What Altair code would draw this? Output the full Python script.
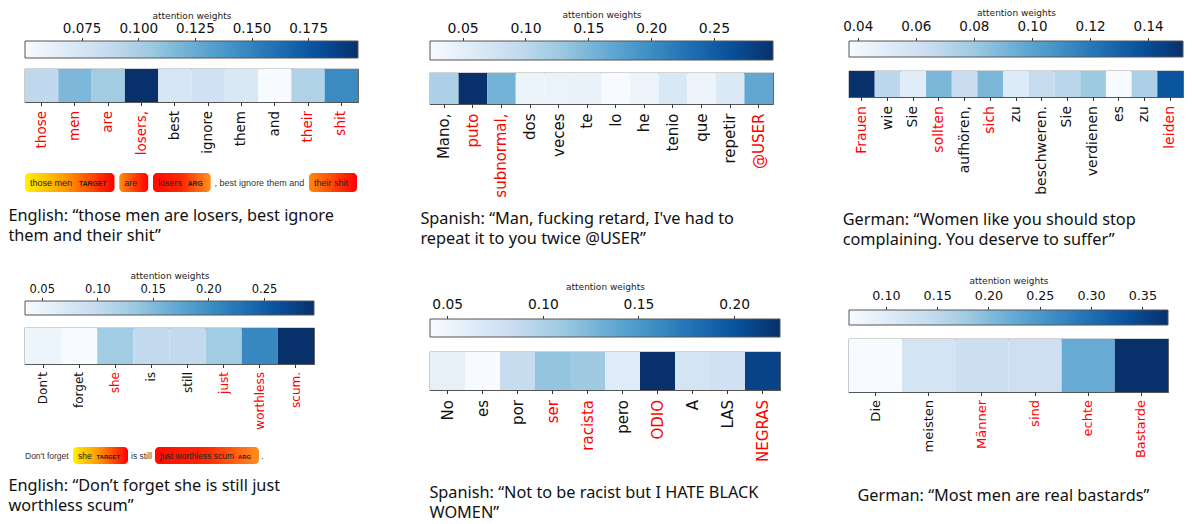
import json
import altair as alt
import pandas as pd

# ---------------- data ----------------
p1_tokens = ["those", "men", "are", "losers,", "best", "ignore", "them", "and", "their", "shit"]
p1_values = [0.090, 0.117, 0.103, 0.197, 0.074, 0.080, 0.072, 0.050, 0.097, 0.146]
p1_red = [0, 1, 2, 3, 8, 9]
p1_ticks = [0.075, 0.100, 0.125, 0.150, 0.175]
p1_caption = ["English: \u201cthose men are losers, best ignore", "them and their shit\u201d"]

p2_tokens = ["Mano,", "puto", "subnormal,", "dos", "veces", "te", "lo", "he", "tenio", "que", "repetir", "@USER"]
p2_values = [0.114, 0.297, 0.155, 0.040, 0.042, 0.043, 0.024, 0.038, 0.065, 0.038, 0.062, 0.169]
p2_red = [1, 2, 11]
p2_ticks = [0.05, 0.10, 0.15, 0.20, 0.25]
p2_caption = ["Spanish: \u201cMan, fucking retard, I've had to", "repeat it to you twice @USER\u201d"]

p3_tokens = ["Frauen", "wie", "Sie", "sollten", "aufh\u00f6ren,", "sich", "zu", "beschweren.", "Sie", "verdienen", "es", "zu", "leiden"]
p3_values = [0.152, 0.069, 0.050, 0.090, 0.063, 0.090, 0.052, 0.065, 0.070, 0.080, 0.037, 0.075, 0.136]
p3_red = [0, 3, 5, 12]
p3_ticks = [0.04, 0.06, 0.08, 0.10, 0.12, 0.14]
p3_caption = ["German: \u201cWomen like you should stop", "complaining. You deserve to suffer\u201d"]

p4_tokens = ["Don't", "forget", "she", "is", "still", "just", "worthless", "scum."]
p4_values = [0.048, 0.035, 0.129, 0.103, 0.103, 0.129, 0.207, 0.295]
p4_red = [2, 5, 6, 7]
p4_ticks = [0.05, 0.10, 0.15, 0.20, 0.25]
p4_caption = ["English: \u201cDon\u2019t forget she is still just", "worthless scum\u201d"]

p5_tokens = ["No", "es", "por", "ser", "racista", "pero", "ODIO", "A", "LAS", "NEGRAS"]
p5_values = [0.057, 0.041, 0.085, 0.114, 0.109, 0.063, 0.224, 0.074, 0.078, 0.211]
p5_red = [3, 4, 6, 9]
p5_ticks = [0.05, 0.10, 0.15, 0.20]
p5_caption = ["Spanish: \u201cNot to be racist but I HATE BLACK", "WOMEN\u201d"]

p6_tokens = ["Die", "meisten", "M\u00e4nner", "sind", "echte", "Bastarde"]
p6_values = [0.064, 0.120, 0.132, 0.131, 0.223, 0.375]
p6_red = [2, 3, 4, 5]
p6_ticks = [0.10, 0.15, 0.20, 0.25, 0.30, 0.35]
p6_caption = ["German: \u201cMost men are real bastards\u201d"]

# span annotations (positions along the annotation strip)
a1_start = [0, 98, 133, 197, 295]
a1_end = [93, 128, 193, 197, 345]
a1_label = ["those men", "are", "losers", ", best ignore them and", "their shit"]
a1_tag = ["TARGET", "", "ARG", "", ""]
a1_kind = ["yr", "or", "ro", "plain", "or"]

a4_start = [0, 48, 106, 130, 236]
a4_end = [0, 103, 106, 234, 236]
a4_label = ["Don't forget", "she", "is still", "just worthless scum", "."]
a4_tag = ["", "TARGET", "", "ARG", ""]
a4_kind = ["plain", "yr", "plain", "ro", "plain"]

# ---------------- style ----------------
BLUES = ["#f7fbff", "#deebf7", "#c6dbef", "#9ecae1", "#6baed6",
         "#4292c6", "#2171b5", "#08519c", "#08306b"]
TICK_FONT = "DejaVu Sans"
CAP_FONT = "Noto Sans"
FRAME = "#555555"

GRADS = {
    "yr": [("#fff200", 0.0), ("#ff9a00", 0.45), ("#ff0000", 1.0)],
    "or": [("#ff8c10", 0.0), ("#ff0000", 1.0)],
    "ro": [("#ff0a00", 0.0), ("#ff2a00", 0.5), ("#ff9020", 1.0)],
}


def lin_grad(stops):
    return alt.LinearGradient(
        gradient="linear",
        stops=[alt.GradientStop(color=c, offset=o) for c, o in stops],
        x1=0, x2=1, y1=0, y2=0,
    )


def colorbar(values, ticks, fmt, width, height, fs, lp, tp):
    lo, hi = min(values), max(values)
    df = pd.DataFrame({"lo": [lo], "hi": [hi]})
    grad = lin_grad([(c, i / (len(BLUES) - 1)) for i, c in enumerate(BLUES)])
    return alt.Chart(df).mark_rect(fill=grad, stroke=FRAME, strokeWidth=1).encode(
        x=alt.X("lo:Q",
                scale=alt.Scale(domain=[lo, hi], nice=False, zero=False),
                axis=alt.Axis(orient="top", values=ticks, format=fmt,
                              title="attention weights", titleFont=TICK_FONT,
                              titleFontSize=9, titleFontWeight="normal",
                              titleColor="#222222", titlePadding=tp,
                              labelFont=TICK_FONT, labelFontSize=fs,
                              labelColor="#111111", labelPadding=lp,
                              labelOverlap=False, labelFlush=False,
                              tickSize=3.5, tickColor="#333333",
                              domain=False, grid=False)),
        x2="hi:Q",
    ).properties(width=width, height=height,
                 view=alt.ViewBackground(strokeOpacity=0, strokeWidth=0))


def heatmap(tokens, values, red, width, height, fs, lp):
    df = pd.DataFrame({"idx": list(range(len(tokens))), "v": values})
    lo, hi = min(values), max(values)
    dom = [lo + (hi - lo) * i / (len(BLUES) - 1) for i in range(len(BLUES))]
    label_expr = json.dumps(tokens, ensure_ascii=False) + "[datum.value]"
    label_color = {
        "condition": {"test": "indexof(%s, datum.value) >= 0" % json.dumps(red),
                      "value": "#ff0000"},
        "value": "#111111",
    }
    return alt.Chart(df).mark_rect().encode(
        x=alt.X("idx:O",
                scale=alt.Scale(paddingInner=0, paddingOuter=0),
                axis=alt.Axis(labelExpr=label_expr, labelAngle=-90,
                              labelColor=label_color, labelFont=TICK_FONT,
                              labelFontSize=fs, labelPadding=lp,
                              labelOverlap=False, tickSize=3.5,
                              tickColor="#333333", domain=False, title=None)),
        color=alt.Color("v:Q",
                        scale=alt.Scale(domain=dom, range=BLUES, interpolate="rgb"),
                        legend=None),
    ).properties(width=width, height=height,
                 view=alt.ViewBackground(stroke=FRAME, strokeWidth=1.2))


def annotation(starts, ends, labels, tags, kinds, xmax, width, height, fs, tag_fs, tag_dx):
    df = pd.DataFrame({"start": starts, "end": ends, "label": labels,
                       "tag": tags, "kind": kinds})
    xs = alt.Scale(domain=[0, xmax], nice=False, zero=False)
    base = alt.Chart(df)
    layers = []
    for kind, stops in GRADS.items():
        layers.append(
            base.transform_filter(alt.datum.kind == kind)
            .mark_rect(fill=lin_grad(stops), cornerRadius=4)
            .encode(x=alt.X("start:Q", scale=xs, axis=None), x2="end:Q")
        )
    layers.append(
        base.transform_filter(alt.datum.kind != "plain")
        .mark_text(align="left", baseline="middle", dx=5, font="Liberation Sans",
                   fontSize=fs, color="#222222")
        .encode(x=alt.X("start:Q", scale=xs, axis=None), text="label:N")
    )
    layers.append(
        base.transform_filter(alt.datum.kind == "plain")
        .mark_text(align="left", baseline="middle", font="Liberation Sans",
                   fontSize=fs, color="#333333")
        .encode(x=alt.X("start:Q", scale=xs, axis=None), text="label:N")
    )
    layers.append(
        base.transform_filter(alt.datum.tag != "")
        .mark_text(align="right", baseline="middle", dx=tag_dx, dy=1,
                   font="Liberation Sans", fontSize=tag_fs, fontWeight="bold",
                   color="#222222")
        .encode(x=alt.X("end:Q", scale=xs, axis=None), text="tag:N")
    )
    return alt.layer(*layers).properties(
        width=width, height=height,
        view=alt.ViewBackground(strokeOpacity=0, strokeWidth=0))


def vc(*charts, **kw):
    return alt.vconcat(*charts, **kw).resolve_scale(color="independent")


def caption(lines, dx, offset):
    return alt.TitleParams(text=lines, orient="bottom", anchor="start", dx=dx,
                           offset=offset, font=CAP_FONT, fontSize=16.3,
                           fontWeight="normal", lineHeight=20, color="#111111")


# ---------------- panels ----------------
p1 = vc(
    vc(colorbar(p1_values, p1_ticks, ".3f", 333, 17, 13.5, 1.7, 1.5),
       heatmap(p1_tokens, p1_values, p1_red, 333, 33, 13.5, 5), spacing=9),
    annotation(a1_start, a1_end, a1_label, a1_tag, a1_kind, 346, 333, 19, 9, 6.8, -8),
    spacing=17, title=caption(p1_caption, -16, 16))

p2 = vc(colorbar(p2_values, p2_ticks, ".2f", 343, 19, 14, 2.5, 1.5),
        heatmap(p2_tokens, p2_values, p2_red, 343, 31, 15, 5.5),
        spacing=11, title=caption(p2_caption, -9, 13.5))

p3 = vc(colorbar(p3_values, p3_ticks, ".2f", 334, 16, 13.5, 4.5, 1.5),
        heatmap(p3_tokens, p3_values, p3_red, 334, 26, 14, 5),
        spacing=12, title=caption(p3_caption, 0, 17))

p4 = vc(
    vc(colorbar(p4_values, p4_ticks, ".2f", 289, 14, 11.5, 3, 3.4),
       heatmap(p4_tokens, p4_values, p4_red, 289, 36, 12, 4), spacing=11),
    annotation(a4_start, a4_end, a4_label, a4_tag, a4_kind, 240, 240, 17, 8.5, 5.8, -8),
    spacing=17, title=caption(p4_caption, -16, 14))

p5 = vc(colorbar(p5_values, p5_ticks, ".2f", 350, 18, 13.8, 4.5, 6),
        heatmap(p5_tokens, p5_values, p5_red, 350, 38, 15, 6),
        spacing=13, title=caption(p5_caption, 0, 23))

p6 = vc(colorbar(p6_values, p6_ticks, ".2f", 319, 15, 12.7, 4, 4.5),
        heatmap(p6_tokens, p6_values, p6_red, 319, 53, 13, 4),
        spacing=12, title=caption(p6_caption, 9, 30))

col1 = vc(p1, p4, spacing=26)
col2 = vc(p2, p5, spacing=34)
col3 = vc(p3, p6, spacing=27)

chart = alt.hconcat(col1, col2, col3, spacing=61).resolve_scale(
    color="independent"
).properties(
    padding={"left": 0, "top": 0, "right": 0, "bottom": 0}
).configure_view(strokeWidth=0, stroke="transparent").configure(background="white")

chart.save("out.html", embed_options={"renderer": "svg", "actions": False})
